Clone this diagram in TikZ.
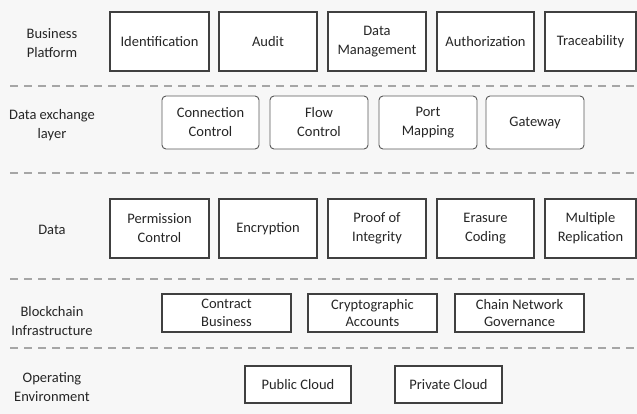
\documentclass[tikz,border=0pt]{standalone}
\usepackage{fontspec}
\setmainfont{Carlito}
\begin{document}
\begin{tikzpicture}[x=1pt,y=-1pt,
  every node/.style={font=\fontsize{14.5}{19}\selectfont, text=black!85, align=center, inner sep=0pt},
  layerlabel/.style={},
  tight/.style={font=\fontsize{14.5}{17.5}\selectfont},
  thickbox/.style={draw=black!75, line width=1.8pt, fill=white},
  softbox/.style={draw=black!65, line width=0.9pt, rounded corners=4pt, fill=white},
  thinbox/.style={draw=black!75, line width=1.4pt, fill=white},
  sep/.style={draw=black!35, line width=1.1pt, dash pattern=on 8pt off 6pt}]
\useasboundingbox (0,0) rectangle (637,414);
\fill[black!3] (0,0) rectangle (637,414);

% Business platform
\node[layerlabel] (lbp) at (52,43) {Business\\Platform};
\draw[thickbox] (110,12) rectangle (209,71) node[midway] (id) {Identification};
\draw[thickbox] (219,12) rectangle (317,71) node[midway] (au) {Audit};
\draw[thickbox] (328,12) rectangle (426,71) node[midway] (dm) {Data\\Management};
\draw[thickbox] (437,12) rectangle (534,71) node[midway] (az) {Authorization};
\draw[thickbox] (545,12) rectangle (636,71) node[midway] (tr) {Traceability};

\coordinate (s1a) at (10,86); \coordinate (s1b) at (637,86);
\draw[sep] (s1a) -- (s1b);

% Data exchange layer
\node[layerlabel] (lde) at (52,125) {Data exchange\\layer};
\draw[softbox] (162,96) rectangle (259,149) node[midway] (cc) {Connection\\Control};
\draw[softbox] (270,96) rectangle (368,149) node[midway] (fc) {Flow\\Control};
\draw[softbox] (379,96) rectangle (477,149) node[midway] (pm) {Port\\Mapping};
\draw[softbox] (486,96) rectangle (584,149) node[midway] (gw) {Gateway};

\coordinate (s2a) at (10,173); \coordinate (s2b) at (637,173);
\draw[sep] (s2a) -- (s2b);

% Data
\node[layerlabel] (ld) at (52,230) {Data};
\draw[thickbox] (110,199) rectangle (209,258) node[midway] (pc) {Permission\\Control};
\draw[thickbox] (219,199) rectangle (317,258) node[midway] (en) {Encryption};
\draw[thickbox] (328,199) rectangle (426,258) node[midway] (pi) {Proof of\\Integrity};
\draw[thickbox] (437,199) rectangle (534,258) node[midway] (ec) {Erasure\\Coding};
\draw[thickbox] (545,199) rectangle (636,258) node[midway] (mr) {Multiple\\Replication};

\coordinate (s3a) at (10,279); \coordinate (s3b) at (637,279);
\draw[sep] (s3a) -- (s3b);

% Blockchain infrastructure
\node[layerlabel] (lbi) at (52,321) {Blockchain\\Infrastructure};
\draw[thinbox] (162,294) rectangle (291,332) node[midway, tight] (cb) {Contract\\Business};
\draw[thinbox] (308,294) rectangle (437,332) node[midway, tight] (ca) {Cryptographic\\Accounts};
\draw[thinbox] (455,294) rectangle (584,332) node[midway, tight] (cn) {Chain Network\\Governance};

\coordinate (s4a) at (10,348); \coordinate (s4b) at (637,348);
\draw[sep] (s4a) -- (s4b);

% Operating environment
\node[layerlabel] (loe) at (52,387) {Operating\\Environment};
\draw[thinbox] (245,366) rectangle (351,403) node[midway] (pub) {Public Cloud};
\draw[thinbox] (395,366) rectangle (502,403) node[midway] (pri) {Private Cloud};
\end{tikzpicture}
\end{document}
